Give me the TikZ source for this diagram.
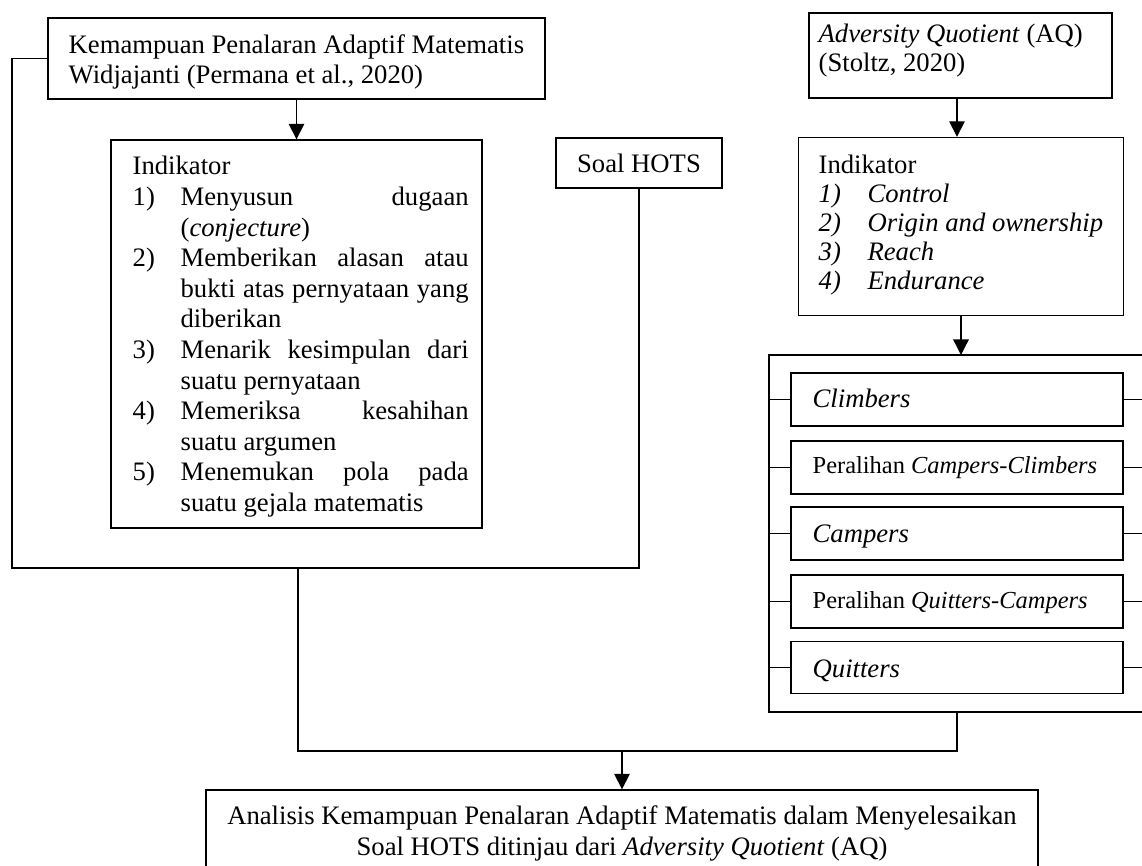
\documentclass[tikz,border=0pt]{standalone}
\usepackage{fontspec}
\setmainfont{Liberation Serif}
\usetikzlibrary{arrows.meta}
\begin{document}
\begin{tikzpicture}[x=0.45pt,y=-0.45pt,line width=0.6pt,
  rect/.style 2 args={draw, line width=0.6pt, inner sep=0pt, minimum width=#1*0.45pt, minimum height=#2*0.45pt},
  txt/.style={inner sep=0pt, anchor=base west, font=\fontsize{12}{13.5}\selectfont},
  smalltxt/.style={inner sep=0pt, anchor=base west, font=\fontsize{11}{13}\selectfont},
  arr/.style={-{Triangle[width=7pt,length=7pt]}}]
\useasboundingbox (0,0) rectangle (1142,866);
\clip (0,0) rectangle (1142,866);

% ---------- left column ----------
\node[rect={497}{81}] (kpa) at (296.5,58.5) {};
\node[txt] (kpatext) at (68,54) {\fontsize{12}{13.5}\selectfont\begin{tabular}[t]{@{}l@{}}Kemampuan Penalaran Adaptif Matematis\\Widjajanti (Permana et al., 2020)\end{tabular}};

\node[rect={371}{388}] (indL) at (296.5,334) {};
\node[txt] (indLtext) at (132,175) {\fontsize{12}{13.77}\selectfont\begin{tabular}[t]{@{}p{21.6pt}@{}p{129.6pt}@{}}
\multicolumn{2}{@{}l@{}}{Indikator}\\
1) & \makebox[\linewidth][s]{Menyusun dugaan}\\
   & (\textit{conjecture})\\
2) & \makebox[\linewidth][s]{Memberikan alasan atau}\\
   & \makebox[\linewidth][s]{bukti atas pernyataan yang}\\
   & diberikan\\
3) & \makebox[\linewidth][s]{Menarik kesimpulan dari}\\
   & suatu pernyataan\\
4) & \makebox[\linewidth][s]{Memeriksa kesahihan}\\
   & suatu argumen\\
5) & \makebox[\linewidth][s]{Menemukan pola pada}\\
   & suatu gejala matematis
\end{tabular}};

\node[rect={166}{50}, font=\fontsize{12}{13.5}\selectfont] (hots) at (639,163) {Soal HOTS};

% ---------- right column ----------
\node[rect={303}{85}] (aq) at (960.5,55.5) {};
\node[txt] (aqtext) at (818,43) {\fontsize{12}{13.05}\selectfont\begin{tabular}[t]{@{}l@{}}\textit{Adversity Quotient} (AQ)\\(Stoltz, 2020)\end{tabular}};

\node[rect={325}{178}] (indR) at (961,226.5) {};
\node[txt] (indRtext) at (818,174) {\fontsize{12}{13.05}\selectfont\begin{tabular}[t]{@{}p{22pt}@{}l@{}}
\multicolumn{2}{@{}l@{}}{Indikator}\\
\textit{1)} & \textit{Control}\\
\textit{2)} & \textit{Origin and ownership}\\
\textit{3)} & \textit{Reach}\\
\textit{4)} & \textit{Endurance}
\end{tabular}};

% bracket
\coordinate (brTL) at (769,355);
\coordinate (brTR) at (1142,355);
\coordinate (brBL) at (769,712);
\coordinate (brBR) at (1142,712);
\draw (brTR) -- (brTL) -- (brBL) -- (brBR);

\node[rect={332}{53}] (cl) at (957,399.5) {};
\node[rect={332}{53}] (pcc) at (957,467.5) {};
\node[rect={332}{53}] (ca) at (957,533.5) {};
\node[rect={332}{53}] (pqc) at (957,601.5) {};
\node[rect={332}{52}] (qu) at (957,667.5) {};

\node[txt] (cltext) at (812,408) {\textit{Climbers}};
\node[smalltxt] (pcctext) at (812,473) {Peralihan \textit{Campers-Climbers}};
\node[txt] (catext) at (812,542) {\textit{Campers}};
\node[smalltxt] (pqctext) at (812,608) {Peralihan \textit{Quitters-Campers}};
\node[txt] (qutext) at (812,677) {\textit{Quitters}};

\foreach \b in {cl,pcc,ca,pqc,qu}{
  \draw (\b.west -| brTL) -- (\b.west);
  \draw (\b.east) -- (\b.east -| brTR);
}

% ---------- bottom ----------
\node[rect={832}{110}] (final) at (622,845) {};
\node[inner sep=0pt, anchor=base, font=\fontsize{12}{13.95}\selectfont] (finaltext) at (622,824) {\fontsize{12}{13.95}\selectfont\begin{tabular}[t]{@{}c@{}}Analisis Kemampuan Penalaran Adaptif Matematis dalam Menyelesaikan\\Soal HOTS ditinjau dari \textit{Adversity Quotient} (AQ)\end{tabular}};

% ---------- connectors ----------
\coordinate (lA) at (12,57);
\coordinate (lB) at (12,568);
\coordinate (lD) at (298,568);
\coordinate (lE) at (298,751);
\coordinate (lF) at (957,751);
\coordinate (aqx) at (957,0);

\draw[arr] (kpa.south) -- (indL.north);
\draw (kpa.west) -- (kpa.west -| lA) -- (lB) -- (hots.south |- lB) -- (hots.south);
\draw (lD) -- (lE) -- (lF) -- (lF |- brBL);
\draw[arr] (final.north |- lE) -- (final.north);

\draw[arr] (aq.south -| aqx) -- (indR.north -| aqx);
\draw[arr] (indR.south) -- (indR.south |- brTL);
\end{tikzpicture}
\end{document}
